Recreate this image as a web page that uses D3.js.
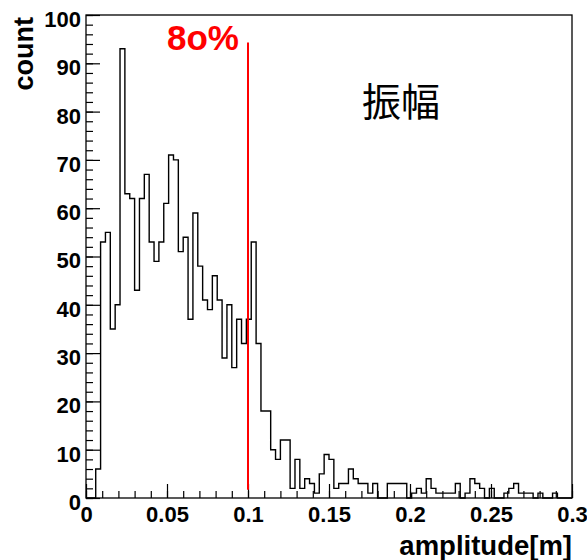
<!DOCTYPE html>
<html>
<head>
<meta charset="utf-8">
<script src="https://cdn.jsdelivr.net/npm/d3@7/dist/d3.min.js"></script>
<style>
  html, body { margin: 0; padding: 0; background: #fff; }
  svg { display: block; }
</style>
</head>
<body>
<svg id="chart" width="587" height="560"></svg>
<script>
// Histogram of amplitudes: 100 bins from 0 to 0.3 m
const binLow = 0;
const binHigh = 0.3;
const counts = [
  0, 0, 6, 53, 55, 35, 40, 93, 63, 62,
  43, 62, 67, 53, 49, 53, 61, 71, 70, 51,
  54, 37, 59, 48, 41, 39, 46, 41, 29, 40,
  27, 37, 32, 37, 53, 32, 18, 18, 10, 8,
  12, 12, 2, 8, 2, 4, 3, 1, 5, 9,
  8, 2, 3, 3, 6, 4, 3, 3, 1, 3,
  0, 0, 3, 3, 3, 3, 0, 1, 2, 1,
  4, 2, 1, 1, 1, 1, 3, 0, 1, 4,
  3, 2, 0, 2, 0, 0, 1, 2, 3, 1,
  1, 1, 0, 1, 0, 0, 1, 0, 0, 0
];

const xTicks = [0, 0.05, 0.1, 0.15, 0.2, 0.25, 0.3];
const xTickLabels = ["0", "0.05", "0.1", "0.15", "0.2", "0.25", "0.3"];
const yTicks = [0, 10, 20, 30, 40, 50, 60, 70, 80, 90, 100];

// 80% marker line
const markerX = 0.1;
const markerY = [1.7, 94.3];
const markerLabel = "8o%";
const titleText = "振幅";
const xTitle = "amplitude[m]";
const yTitle = "count";

const svg = d3.select("#chart");
const frame = { left: 86, right: 572, top: 15, bottom: 498 };

const x = d3.scaleLinear().domain([binLow, binHigh]).range([frame.left, frame.right]);
const y = d3.scaleLinear().domain([0, 100]).range([frame.bottom, frame.top]);

const font = "'Liberation Sans', Arial, Helvetica, sans-serif";

// Histogram outline as a step line
const binWidth = (binHigh - binLow) / counts.length;
const pts = [[binLow, 0]];
counts.forEach((c, i) => pts.push([binLow + i * binWidth, c]));
pts.push([binHigh, counts[counts.length - 1]]);
pts.push([binHigh, 0]);

svg.append("path")
  .attr("d", d3.line().x(d => x(d[0])).y(d => y(d[1])).curve(d3.curveStepAfter)(pts))
  .attr("fill", "none")
  .attr("stroke", "#000")
  .attr("stroke-width", 1.4);

// Minor ticks
const xMinor = d3.range(0, 31).map(i => i / 100);
const yMinor = d3.range(0, 101, 2);

svg.append("g")
  .attr("transform", `translate(0,${frame.bottom})`)
  .call(d3.axisBottom(x).tickValues(xMinor).tickSize(-7).tickFormat(""))
  .call(g => g.select(".domain").remove())
  .call(g => g.selectAll("line").attr("stroke", "#000").attr("stroke-width", 1.2));

svg.append("g")
  .attr("transform", `translate(${frame.left},0)`)
  .call(d3.axisLeft(y).tickValues(yMinor).tickSize(-7).tickFormat(""))
  .call(g => g.select(".domain").remove())
  .call(g => g.selectAll("line").attr("stroke", "#000").attr("stroke-width", 1.2));

// Major ticks with labels
svg.append("g")
  .attr("transform", `translate(0,${frame.bottom})`)
  .call(d3.axisBottom(x).tickValues(xTicks).tickSize(-14).tickPadding(8)
    .tickFormat((d, i) => xTickLabels[i]))
  .call(g => g.select(".domain").remove())
  .call(g => g.selectAll("line").attr("stroke", "#000").attr("stroke-width", 1.2))
  .call(g => g.selectAll("text")
    .attr("font-family", font).attr("font-weight", "bold")
    .attr("font-size", 22).attr("fill", "#000"));

svg.append("g")
  .attr("transform", `translate(${frame.left},0)`)
  .call(d3.axisLeft(y).tickValues(yTicks).tickSize(-14).tickPadding(5))
  .call(g => g.select(".domain").remove())
  .call(g => g.selectAll("line").attr("stroke", "#000").attr("stroke-width", 1.2))
  .call(g => g.selectAll("text")
    .attr("font-family", font).attr("font-weight", "bold")
    .attr("font-size", 22).attr("fill", "#000").attr("dy", "0.52em"));

// Frame
svg.append("rect")
  .attr("x", frame.left).attr("y", frame.top)
  .attr("width", frame.right - frame.left).attr("height", frame.bottom - frame.top)
  .attr("fill", "none").attr("stroke", "#000").attr("stroke-width", 1.3);

// Marker line at 0.1
svg.append("line")
  .attr("x1", x(markerX)).attr("x2", x(markerX))
  .attr("y1", y(markerY[0])).attr("y2", y(markerY[1]))
  .attr("stroke", "#ff0000").attr("stroke-width", 2);

svg.append("text")
  .attr("x", 167).attr("y", 50)
  .attr("font-family", font).attr("font-weight", "bold")
  .attr("font-size", 35).attr("fill", "#ff0000")
  .text(markerLabel);

svg.append("text")
  .attr("x", 362).attr("y", 116)
  .attr("font-family", "'Noto Sans CJK JP', 'Noto Sans CJK SC', sans-serif")
  .attr("font-size", 39).attr("fill", "#000")
  .text(titleText);

// Axis titles
svg.append("text")
  .attr("x", frame.right).attr("y", 555)
  .attr("text-anchor", "end")
  .attr("font-family", font).attr("font-weight", "bold")
  .attr("font-size", 27.5).attr("fill", "#000")
  .text(xTitle);

svg.append("text")
  .attr("transform", "translate(33,17) rotate(-90)")
  .attr("text-anchor", "end")
  .attr("font-family", font).attr("font-weight", "bold")
  .attr("font-size", 27).attr("fill", "#000")
  .text(yTitle);
</script>
</body>
</html>
